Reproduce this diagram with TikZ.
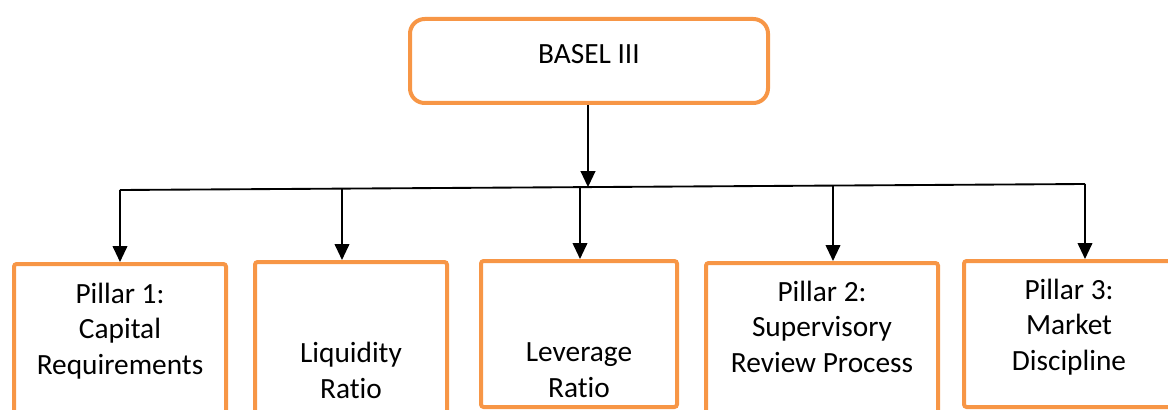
\documentclass[tikz,border=0pt]{standalone}
\usepackage{fontspec}
\setmainfont[Ligatures=NoCommon]{Carlito}
\usetikzlibrary{arrows.meta,fit,calc}
\definecolor{boxorange}{HTML}{F79646}
\begin{document}
\begin{tikzpicture}[x=0.75pt,y=-0.75pt,
  pillarbox/.style={draw=boxorange,line width=3pt,rounded corners=2pt,inner sep=0pt,fill=none},
  topbox/.style={draw=boxorange,line width=3pt,rounded corners=11pt,inner sep=0pt},
  lbl/.style={font=\fontsize{22}{26.5}\selectfont,align=center,anchor=base,inner sep=0pt},
  conn/.style={line width=1.4pt,black},
  arr/.style={conn,-{Triangle[length=12pt,width=11pt]}}]
\useasboundingbox (0,0) rectangle (1168,410);
\clip (0,0) rectangle (1168,410);
% top box
\node[topbox,fit={(410,19)(768,103)}] (top) {};
\node[lbl] (toptext) at (589,64) {BASEL III};
% pillar boxes
\node[pillarbox,fit={(14,264)(226,425)}] (b1) {};
\node[pillarbox,fit={(255,262)(447,425)}] (b2) {};
\node[pillarbox,fit={(481,261)(677,407)}] (b3) {};
\node[pillarbox,fit={(706,263)(938,425)}] (b4) {};
\node[pillarbox,fit={(964,261)(1185,407)}] (b5) {};
% texts (anchored at the last line's baseline)
\node[lbl] (t1) at (120,374) {Pillar 1:\\Capital\\Requirements};
\node[lbl] (t2) at (351,398) {Liquidity\\Ratio};
\node[lbl] (t3) at (579,397) {Leverage\\Ratio};
\node[lbl] (t4) at (822,372) {Pillar 2:\\Supervisory\\Review Process};
\node[lbl] (t5) at (1069,370) {Pillar 3:\\Market\\Discipline};
% bar
\coordinate (barL) at (120,190);
\coordinate (barR) at (1085,184);
\coordinate (j0) at (588,187.1);
\coordinate (j2) at (342,188.6);
\coordinate (j3) at (580,187.1);
\coordinate (j4) at (833,185.6);
\draw[conn] (barL) -- (barR);
\draw[arr] (top.south -| j0) -- (j0);
\draw[arr] (barL) -- (b1.north -| barL);
\draw[arr] (j2) -- (b2.north -| j2);
\draw[arr] (j3) -- (b3.north -| j3);
\draw[arr] (j4) -- (b4.north -| j4);
\draw[arr] (barR) -- (b5.north -| barR);
\end{tikzpicture}
\end{document}
